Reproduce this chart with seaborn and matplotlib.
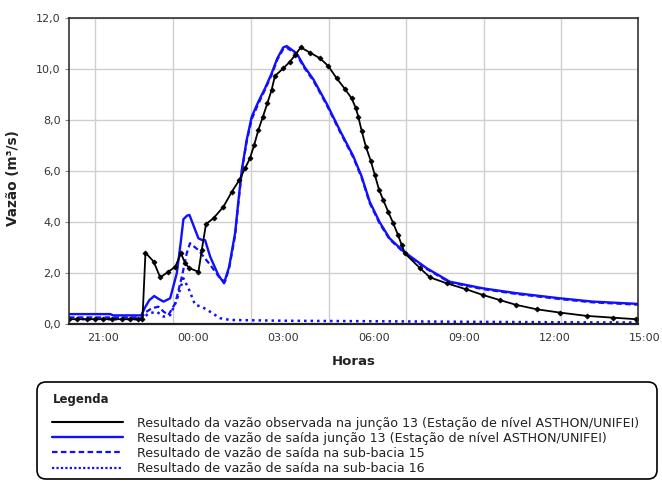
import matplotlib
matplotlib.use("Agg")
import matplotlib.pyplot as plt
import seaborn as sns
from matplotlib.lines import Line2D
from matplotlib.patches import FancyBboxPatch
from matplotlib.transforms import IdentityTransform
from matplotlib.ticker import FixedLocator, FuncFormatter

# ---------------- data (hours relative to 00:00) ----------------
obs_h = [-4.12, -3.85, -3.52, -3.25, -2.98, -2.68, -2.35, -2.09, -1.82, -1.68,
         -1.58, -1.31, -1.09, -0.82, -0.59, -0.40, -0.26, -0.12, 0.18, 0.29,
         0.43, 0.68, 1.01, 1.29, 1.54, 1.73, 1.89, 2.03, 2.17, 2.32, 2.47,
         2.61, 2.72, 3.00, 3.22, 3.39, 3.58, 3.89, 4.22, 4.49, 4.77, 5.05,
         5.27, 5.41, 5.49, 5.60, 5.74, 5.90, 6.04, 6.18, 6.32, 6.48, 6.65,
         6.81, 6.93, 7.04, 7.54, 7.87, 8.42, 9.08, 9.63, 10.19, 10.74, 11.41,
         12.18, 13.07, 13.95, 14.72]
obs_q = [0.20, 0.20, 0.20, 0.20, 0.20, 0.20, 0.20, 0.20, 0.20, 0.20,
         2.81, 2.46, 1.84, 2.06, 2.26, 2.78, 2.39, 2.20, 2.06, 2.91,
         3.93, 4.16, 4.61, 5.20, 5.66, 6.12, 6.51, 7.03, 7.62, 8.14, 8.67,
         9.19, 9.74, 10.04, 10.30, 10.56, 10.86, 10.65, 10.43, 10.13, 9.65, 9.22,
         8.86, 8.47, 8.14, 7.59, 6.97, 6.42, 5.85, 5.27, 4.87, 4.42, 3.96,
         3.50, 3.11, 2.78, 2.20, 1.84, 1.61, 1.37, 1.15, 0.95, 0.76, 0.59,
         0.46, 0.33, 0.26, 0.20]

sim_h = [-4.12, -2.75, -2.65, -1.72, -1.60, -1.45, -1.29, -1.15, -0.98, -0.76,
         -0.54, -0.41, -0.32, -0.20, -0.12, 0.18, 0.29, 0.40, 0.57, 0.84,
         1.03, 1.20, 1.40, 1.51, 1.62, 1.78, 1.95, 2.17, 2.39, 2.61, 2.80,
         3.00, 3.11, 3.44, 3.70, 4.00, 4.44, 4.88, 5.32, 5.60, 5.87, 6.20,
         6.53, 7.00, 7.76, 8.53, 9.63, 10.74, 12.18, 13.28, 14.78]
sim_q = [0.40, 0.40, 0.35, 0.35, 0.65, 0.95, 1.11, 1.00, 0.89, 1.02,
         2.00, 3.20, 4.12, 4.26, 4.29, 3.37, 3.31, 3.30, 2.65, 1.93,
         1.61, 2.26, 3.60, 4.87, 6.05, 7.22, 8.14, 8.73, 9.25, 9.84, 10.43,
         10.86, 10.91, 10.63, 10.10, 9.60, 8.65, 7.60, 6.60, 5.80, 4.80, 4.00,
         3.37, 2.85, 2.20, 1.67, 1.41, 1.22, 1.02, 0.89, 0.80]

sb15_h = [-4.12, -1.70, -1.60, -1.37, -1.15, -0.98, -0.82, -0.59, -0.37, -0.21,
          -0.10, 0.18, 0.57, 0.90, 1.06, 1.20, 1.40, 1.51, 1.62, 1.78, 1.95,
          2.17, 2.39, 2.61, 2.80, 3.00, 3.11, 3.44, 3.70, 4.00, 4.44, 4.88,
          5.32, 5.60, 5.87, 6.20, 6.53, 7.00, 7.76, 8.53, 9.63, 10.74, 12.18,
          13.28, 14.78]
sb15_q = [0.27, 0.27, 0.45, 0.63, 0.69, 0.50, 0.36, 0.82, 1.87, 2.78,
          3.18, 2.91, 2.33, 1.80, 1.67, 2.20, 3.50, 4.80, 6.00, 7.15, 8.05,
          8.65, 9.20, 9.78, 10.38, 10.80, 10.85, 10.58, 10.05, 9.55, 8.60, 7.55,
          6.55, 5.75, 4.75, 3.95, 3.33, 2.82, 2.17, 1.64, 1.38, 1.19, 0.99,
          0.86, 0.77]

sb16_h = [-4.12, -1.70, -1.60, -1.48, -1.20, -0.98, -0.76, -0.54, -0.32, -0.15,
          0.07, 0.29, 0.57, 0.90, 1.23, 3.00, 6.00, 9.00, 12.00, 14.78]
sb16_q = [0.20, 0.20, 0.30, 0.43, 0.49, 0.30, 0.36, 0.95, 1.80, 1.41,
          0.76, 0.69, 0.49, 0.24, 0.17, 0.14, 0.12, 0.10, 0.08, 0.07]

x_tick_hours = [-3, 0, 3, 6, 9, 12, 15]
x_tick_labels = ["21:00", "00:00", "03:00", "06:00", "09:00", "12:00", "15:00"]
x_grid_hours = [-3.256, -0.665, 1.925, 4.50, 7.08, 9.65, 12.23]
y_ticks = [0, 2, 4, 6, 8, 10, 12]

labels = [
    "Resultado da vazão observada na junção 13 (Estação de nível ASTHON/UNIFEI)",
    "Resultado de vazão de saída junção 13 (Estação de nível ASTHON/UNIFEI)",
    "Resultado de vazão de saída na sub-bacia 15",
    "Resultado de vazão de saída na sub-bacia 16",
]

# ---------------- style ----------------
sns.set_style("white")
plt.rcParams['font.family'] = ['DejaVu Sans']
TXT = "#333333"
BLUE = "#1010ff"
DASH = (0, (2.5, 1.5))
DOT = (0, (1.0, 1.6))

fig = plt.figure(figsize=(6.62, 4.84), dpi=100)
ax = fig.add_axes([69 / 662, 1 - 324.3 / 484, (638 - 69) / 662, (324.3 - 18.3) / 484])

styles = [
    dict(color=BLUE, linestyle=DOT, linewidth=1.8),
    dict(color=BLUE, linestyle=DASH, linewidth=1.6),
    dict(color=BLUE, linestyle="-", linewidth=1.7),
]
for (h, q), st in zip([(sb16_h, sb16_q), (sb15_h, sb15_q), (sim_h, sim_q)], styles):
    sns.lineplot(x=h, y=q, ax=ax, estimator=None, sort=False, legend=False, **st)

sns.lineplot(x=obs_h, y=obs_q, ax=ax, estimator=None, sort=False, legend=False,
             color="black", linewidth=1.3, marker="D", markersize=2.6,
             markeredgecolor="black", markeredgewidth=0.5)

ax.set_xlim(-4.12, 14.78)
ax.set_ylim(0, 12)
ax.xaxis.set_major_locator(FixedLocator(x_tick_hours))
ax.set_xticklabels(x_tick_labels)
ax.xaxis.set_minor_locator(FixedLocator(x_grid_hours))
ax.set_yticks(y_ticks)
ax.yaxis.set_major_formatter(FuncFormatter(lambda v, p: f"{v:.1f}".replace(".", ",")))

ax.grid(False)
ax.grid(which="minor", axis="x", color="#cfcfcf", linewidth=1.0)
ax.grid(which="major", axis="y", color="#cfcfcf", linewidth=1.0)
ax.set_axisbelow(True)

ax.tick_params(axis="x", which="both", length=0, pad=6.3, labelsize=8, labelcolor=TXT)
ax.tick_params(axis="y", which="major", length=3, width=0.8, color="#888888", pad=3,
               labelsize=8, labelcolor=TXT, left=True)
ax.annotate("15:00", xy=(15, 0), xycoords=("data", "axes fraction"), xytext=(0, -6.3),
            textcoords="offset points", ha="center", va="top", fontsize=8, color=TXT,
            annotation_clip=False)

for s in ax.spines.values():
    s.set_color("#222222")
    s.set_linewidth(1.1)
ax.spines["bottom"].set_linewidth(1.6)

ax.set_ylabel("Vazão (m³/s)", fontsize=9.8, fontweight="bold", color="#222222")
ax.yaxis.set_label_coords(-0.086, 0.478)
ax.set_xlabel("Horas", fontsize=9.5, fontweight="bold", color="#222222")
ax.xaxis.set_label_coords(0.5, -0.1)

# ---------------- legend box ----------------
box = FancyBboxPatch((37, 5), 620, 97, boxstyle="round,pad=0,rounding_size=9",
                     transform=IdentityTransform(), facecolor="white",
                     edgecolor="black", linewidth=1.2)
fig.add_artist(box)
fig.text(53 / 662, 1 - 399 / 484, "Legenda", fontsize=8.5, fontweight="bold",
         color="#222222", va="center", ha="left")

handles = [
    Line2D([], [], color="black", linewidth=1.5),
    Line2D([], [], color=BLUE, linewidth=1.7),
    Line2D([], [], color=BLUE, linewidth=1.6, linestyle=DASH),
    Line2D([], [], color=BLUE, linewidth=1.6, linestyle=(0, (1.0, 1.0))),
]
fig.legend(handles, labels, loc="upper left", bbox_to_anchor=(52 / 662, 1 - 416.5 / 484),
           frameon=False, fontsize=9.1, handlelength=5.6, handletextpad=1.1,
           labelspacing=0.17, borderpad=0, borderaxespad=0, labelcolor="#222222")

fig.savefig("out.png", dpi=100)
